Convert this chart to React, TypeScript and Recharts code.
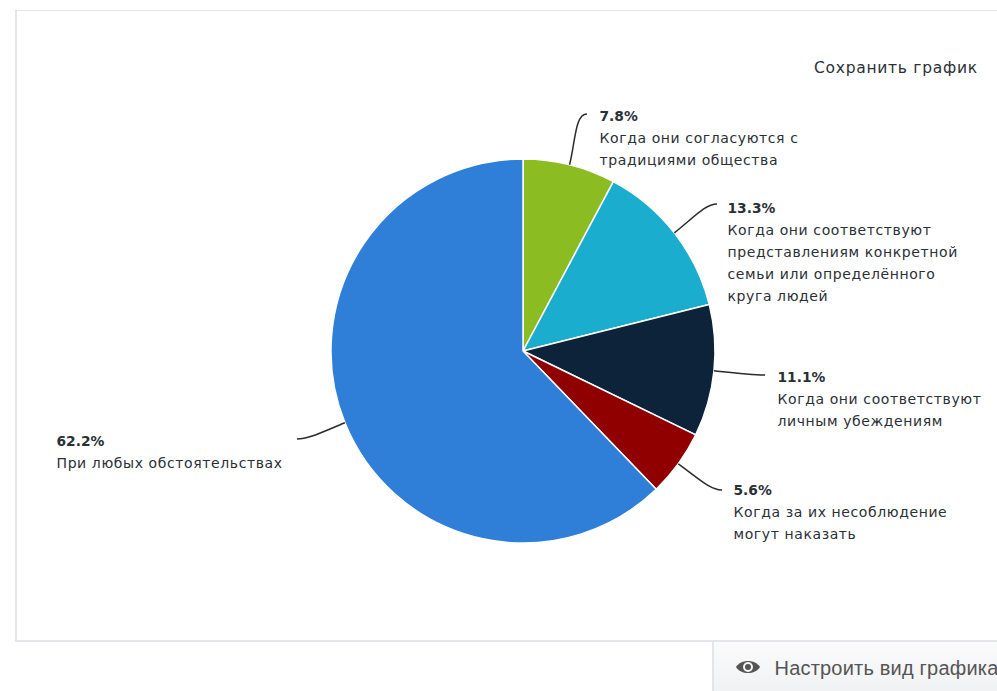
import React from "react";
import { PieChart, Pie, Cell } from "recharts";

const categories = [
	"Когда они согласуются с традициями общества",
	"Когда они соответствуют представлениям конкретной семьи или определённого круга людей",
	"Когда они соответствуют личным убеждениям",
	"Когда за их несоблюдение могут наказать",
	"При любых обстоятельствах",
];
const shares = [7.8, 13.3, 11.1, 5.6, 62.2];
const colors = ["#8bbc21", "#1aadce", "#0d233a", "#910000", "#2f7ed8"];
const wrappedLabels = [
	["Когда они согласуются с", "традициями общества"],
	["Когда они соответствуют", "представлениям конкретной", "семьи или определённого", "круга людей"],
	["Когда они соответствуют", "личным убеждениям"],
	["Когда за их несоблюдение", "могут наказать"],
	["При любых обстоятельствах"],
];

const data = categories.map((name, i) => ({ name, value: shares[i] }));

// label anchor relative to pie centre: where the leader ends and the text block starts
const labelSpots = [
	{ lineX: 64, lineY: -237, textX: 77, textY: -230 },
	{ lineX: 194, lineY: -147, textX: 205, textY: -138 },
	{ lineX: 242, lineY: 24, textX: 255, textY: 31 },
	{ lineX: 199, lineY: 139, textX: 211, textY: 144 },
	{ lineX: -226, lineY: 88, textX: -466, textY: 95 },
];

const FONT = "'DejaVu Sans', sans-serif";
const LINE_HEIGHT = 22;

const renderLabel = (props: any) => {
	const { cx, cy, midAngle, outerRadius, index, value } = props;
	const spot = labelSpots[index];
	const rad = (-midAngle * Math.PI) / 180;
	const sx = cx + outerRadius * Math.cos(rad);
	const sy = cy + outerRadius * Math.sin(rad);
	const ex = cx + spot.lineX;
	const ey = cy + spot.lineY;
	// leader leaves the slice radially, then bends flat towards the text
	const mx = cx + (outerRadius + 24) * Math.cos(rad);
	const my = cy + (outerRadius + 24) * Math.sin(rad);
	const bend = ex > sx ? -12 : 12;
	return (
		<g>
			<path d={`M${sx},${sy} C${mx},${my} ${ex + bend},${ey} ${ex},${ey}`} fill="none" stroke="#2b2b2b" strokeWidth={1.5} />
			<text x={cx + spot.textX - 0.5} y={cy + spot.textY} fontFamily={FONT} fontSize={13.8} fontWeight={700} fill="#2b2f36">
				{value}%
			</text>
			{wrappedLabels[index].map((line, i) => (
				<text key={i} x={cx + spot.textX - 0.5} y={cy + spot.textY + LINE_HEIGHT * (i + 1)} fontFamily={FONT} fontSize={14} letterSpacing={0.6} fill="#2b2f36">
					{line}
				</text>
			))}
		</g>
	);
};

export default function App() {
	return (
		<div style={{ position: "fixed", left: 0, top: 0, width: 997, height: 691, overflow: "hidden", background: "#fff" }}>
			<div style={{ position: "absolute", left: 15, top: 10, width: 1100, height: 632, borderStyle: "solid", borderColor: "#e3e5ea", borderWidth: "1px 0 2px 2px", boxSizing: "border-box" }} />
			<div style={{ position: "absolute", left: 814, top: 59, fontFamily: FONT, fontSize: 15.5, letterSpacing: 0.72, color: "#2b2f36", whiteSpace: "nowrap" }}>Сохранить график</div>
			<div style={{ position: "absolute", left: 0, top: 0 }}>
				<PieChart width={997} height={691} margin={{ top: 0, right: 0, bottom: 0, left: 0 }}>
					<Pie
						data={data}
						dataKey="value"
						nameKey="name"
						cx={523}
						cy={351}
						outerRadius={192}
						startAngle={90}
						endAngle={-270}
						stroke="#fff"
						strokeWidth={1.5}
						label={renderLabel}
						labelLine={false}
						isAnimationActive={false}
					>
						{data.map((_e, i) => (
							<Cell key={`slice-${i}`} fill={colors[i]} />
						))}
					</Pie>
				</PieChart>
			</div>
			<div
				style={{
					position: "absolute",
					left: 712,
					top: 642,
					width: 300,
					height: 49,
					borderLeft: "2px solid #e3e5ea",
					background: "linear-gradient(#fbfbfc, #f1f2f3)",
					boxSizing: "border-box",
				}}
			>
				<svg width={26} height={18} viewBox="0 0 26 18" style={{ position: "absolute", left: 21, top: 16 }}>
					<path d="M1,9 C6,1 20,1 25,9 C20,17 6,17 1,9 Z" fill="#555" />
					<circle cx={13} cy={9} r={5} fill="#f6f6f7" />
					<circle cx={13} cy={9} r={3} fill="#555" />
				</svg>
				<div style={{ position: "absolute", left: 60.5, top: 15, fontFamily: "'Liberation Sans', sans-serif", fontSize: 20, letterSpacing: 0.2, color: "#555", whiteSpace: "nowrap" }}>
					Настроить вид графика
				</div>
			</div>
		</div>
	);
}
